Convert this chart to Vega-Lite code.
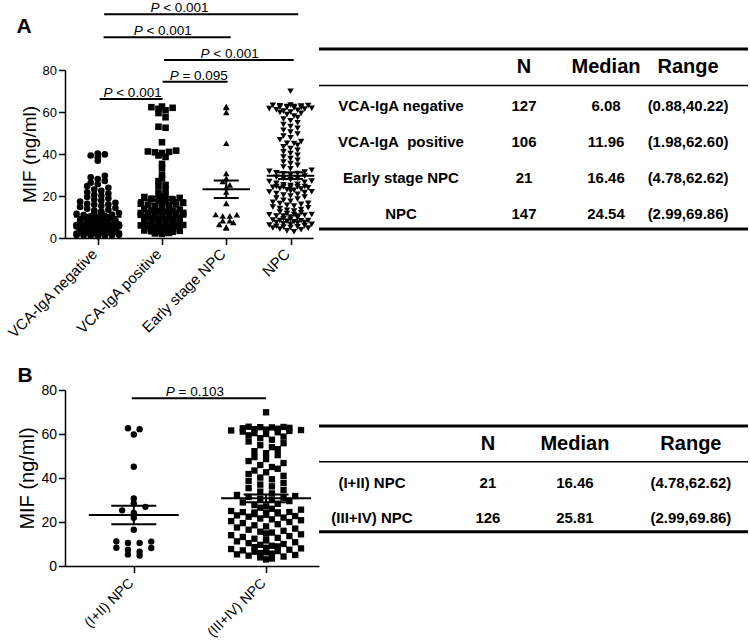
{
"$schema": "https://vega.github.io/schema/vega-lite/v6.json",
"background": "white",
"padding": {"left": 4, "top": 1, "right": 0, "bottom": 0},
"bounds": "flush",
"columns": 2,
"spacing": {"row": 152, "column": 0},
"config": {
  "view": {"stroke": null},
  "font": "Liberation Sans",
  "axis": {"domainColor": "black", "domainWidth": 1.5, "tickColor": "black", "tickWidth": 1.5, "tickSize": 6.5, "labelColor": "black", "titleColor": "black", "grid": false, "labelFont": "Liberation Sans", "titleFont": "Liberation Sans", "titleFontWeight": "normal", "labelOverlap": false, "labelFlush": false},
  "text": {"font": "Liberation Sans", "color": "black"}
},
"datasets": {
  "mif": [
{"g":"neg","v":0.88},{"g":"neg","v":1.05},{"g":"neg","v":1.21},{"g":"neg","v":1.36},{"g":"neg","v":1.5},{"g":"neg","v":1.64},{"g":"neg","v":1.77},{"g":"neg","v":1.9},{"g":"neg","v":2.02},{"g":"neg","v":2.14},
{"g":"neg","v":2.26},{"g":"neg","v":2.38},{"g":"neg","v":2.5},{"g":"neg","v":2.61},{"g":"neg","v":2.72},{"g":"neg","v":2.83},{"g":"neg","v":2.94},{"g":"neg","v":3.05},{"g":"neg","v":3.16},{"g":"neg","v":3.27},
{"g":"neg","v":3.38},{"g":"neg","v":3.49},{"g":"neg","v":3.6},{"g":"neg","v":3.71},{"g":"neg","v":3.82},{"g":"neg","v":3.93},{"g":"neg","v":4.04},{"g":"neg","v":4.15},{"g":"neg","v":4.26},{"g":"neg","v":4.37},
{"g":"neg","v":4.48},{"g":"neg","v":4.59},{"g":"neg","v":4.7},{"g":"neg","v":4.81},{"g":"neg","v":4.92},{"g":"neg","v":5.03},{"g":"neg","v":5.14},{"g":"neg","v":5.25},{"g":"neg","v":5.36},{"g":"neg","v":5.47},
{"g":"neg","v":5.56},{"g":"neg","v":5.64},{"g":"neg","v":5.72},{"g":"neg","v":5.8},{"g":"neg","v":5.88},{"g":"neg","v":5.94},{"g":"neg","v":6.0},{"g":"neg","v":6.04},{"g":"neg","v":6.06},{"g":"neg","v":6.07},
{"g":"neg","v":1.12},{"g":"neg","v":1.45},{"g":"neg","v":1.98},{"g":"neg","v":2.44},{"g":"neg","v":2.9},{"g":"neg","v":3.33},{"g":"neg","v":3.75},{"g":"neg","v":4.1},{"g":"neg","v":4.55},{"g":"neg","v":4.98},{"g":"neg","v":5.3},{"g":"neg","v":5.68},{"g":"neg","v":5.98},
{"g":"neg","v":6.08},
{"g":"neg","v":6.2},{"g":"neg","v":6.35},{"g":"neg","v":6.5},{"g":"neg","v":6.7},{"g":"neg","v":6.9},{"g":"neg","v":7.1},{"g":"neg","v":7.3},{"g":"neg","v":7.5},{"g":"neg","v":7.7},{"g":"neg","v":7.9},
{"g":"neg","v":8.1},{"g":"neg","v":8.35},{"g":"neg","v":8.6},{"g":"neg","v":8.85},{"g":"neg","v":9.1},{"g":"neg","v":9.4},{"g":"neg","v":9.7},{"g":"neg","v":10.0},{"g":"neg","v":10.3},{"g":"neg","v":10.6},
{"g":"neg","v":10.9},{"g":"neg","v":11.2},{"g":"neg","v":11.5},{"g":"neg","v":11.9},{"g":"neg","v":12.3},{"g":"neg","v":12.7},{"g":"neg","v":13.1},{"g":"neg","v":13.5},{"g":"neg","v":13.9},{"g":"neg","v":14.3},
{"g":"neg","v":14.8},{"g":"neg","v":15.3},{"g":"neg","v":15.8},{"g":"neg","v":16.3},{"g":"neg","v":16.8},{"g":"neg","v":17.3},{"g":"neg","v":17.8},{"g":"neg","v":18.3},{"g":"neg","v":18.9},{"g":"neg","v":19.5},
{"g":"neg","v":20.1},{"g":"neg","v":20.6},{"g":"neg","v":21.2},{"g":"neg","v":21.8},{"g":"neg","v":22.5},{"g":"neg","v":23.1},{"g":"neg","v":23.9},{"g":"neg","v":24.7},{"g":"neg","v":25.6},{"g":"neg","v":26.3},
{"g":"neg","v":27.2},{"g":"neg","v":28.1},{"g":"neg","v":28.9},{"g":"neg","v":29.6},{"g":"neg","v":16.0},{"g":"neg","v":12.0},{"g":"neg","v":9.0},{"g":"neg","v":7.2},{"g":"neg","v":36.8},{"g":"neg","v":38.5},{"g":"neg","v":39.3},{"g":"neg","v":39.8},{"g":"neg","v":40.22},
{"g":"pos","v":1.98},{"g":"pos","v":2.2},{"g":"pos","v":2.4},{"g":"pos","v":2.6},{"g":"pos","v":2.8},{"g":"pos","v":3.0},{"g":"pos","v":3.2},{"g":"pos","v":3.4},{"g":"pos","v":3.6},{"g":"pos","v":3.8},
{"g":"pos","v":4.0},{"g":"pos","v":4.2},{"g":"pos","v":4.4},{"g":"pos","v":4.6},{"g":"pos","v":4.8},{"g":"pos","v":5.0},{"g":"pos","v":5.2},{"g":"pos","v":5.4},{"g":"pos","v":5.6},{"g":"pos","v":5.8},
{"g":"pos","v":6.0},{"g":"pos","v":6.2},{"g":"pos","v":6.4},{"g":"pos","v":6.6},{"g":"pos","v":6.8},{"g":"pos","v":7.0},{"g":"pos","v":7.2},{"g":"pos","v":7.4},{"g":"pos","v":7.6},{"g":"pos","v":7.8},
{"g":"pos","v":8.0},{"g":"pos","v":8.2},{"g":"pos","v":8.4},{"g":"pos","v":8.6},{"g":"pos","v":8.8},{"g":"pos","v":9.0},{"g":"pos","v":9.2},{"g":"pos","v":9.4},{"g":"pos","v":9.6},{"g":"pos","v":9.8},
{"g":"pos","v":10.0},{"g":"pos","v":10.2},{"g":"pos","v":10.4},{"g":"pos","v":10.6},{"g":"pos","v":10.8},{"g":"pos","v":11.0},{"g":"pos","v":11.2},{"g":"pos","v":11.4},{"g":"pos","v":11.6},{"g":"pos","v":11.7},{"g":"pos","v":11.8},{"g":"pos","v":11.88},{"g":"pos","v":11.92},
{"g":"pos","v":12.0},
{"g":"pos","v":12.3},{"g":"pos","v":12.7},{"g":"pos","v":13.1},{"g":"pos","v":13.5},{"g":"pos","v":13.9},{"g":"pos","v":14.3},{"g":"pos","v":14.7},{"g":"pos","v":15.1},{"g":"pos","v":15.5},{"g":"pos","v":15.9},
{"g":"pos","v":16.3},{"g":"pos","v":16.7},{"g":"pos","v":17.1},{"g":"pos","v":17.5},{"g":"pos","v":17.9},{"g":"pos","v":18.3},{"g":"pos","v":18.7},{"g":"pos","v":19.1},{"g":"pos","v":19.5},{"g":"pos","v":19.9},
{"g":"pos","v":20.6},{"g":"pos","v":21.4},{"g":"pos","v":12.5},{"g":"pos","v":23.2},{"g":"pos","v":24.5},{"g":"pos","v":25.3},{"g":"pos","v":27.1},{"g":"pos","v":13.0},{"g":"pos","v":28.4},{"g":"pos","v":30.2},
{"g":"pos","v":14.0},{"g":"pos","v":33.4},{"g":"pos","v":15.2},{"g":"pos","v":35.3},{"g":"pos","v":16.0},{"g":"pos","v":38.6},{"g":"pos","v":39.3},{"g":"pos","v":40.8},{"g":"pos","v":41.0},{"g":"pos","v":41.2},
{"g":"pos","v":45.6},{"g":"pos","v":41.6},{"g":"pos","v":52.5},{"g":"pos","v":53.0},{"g":"pos","v":57.5},{"g":"pos","v":40.5},{"g":"pos","v":59.5},{"g":"pos","v":60.8},{"g":"pos","v":61.5},{"g":"pos","v":62.0},{"g":"pos","v":62.3},{"g":"pos","v":62.6},
{"g":"npc","s":"I+II","v":4.78},{"g":"npc","s":"I+II","v":5.2},{"g":"npc","s":"I+II","v":6.5},{"g":"npc","s":"I+II","v":7.4},{"g":"npc","s":"I+II","v":8.2},{"g":"npc","s":"I+II","v":8.3},{"g":"npc","s":"I+II","v":10.5},
{"g":"npc","s":"I+II","v":10.5},{"g":"npc","s":"I+II","v":11.1},{"g":"npc","s":"I+II","v":11.2},{"g":"npc","s":"I+II","v":16.46},{"g":"npc","s":"I+II","v":21.9},{"g":"npc","s":"I+II","v":24.1},{"g":"npc","s":"I+II","v":25.3},
{"g":"npc","s":"I+II","v":26.9},{"g":"npc","s":"I+II","v":28.4},{"g":"npc","s":"I+II","v":30.7},{"g":"npc","s":"I+II","v":45.1},{"g":"npc","s":"I+II","v":59.8},{"g":"npc","s":"I+II","v":62.2},{"g":"npc","s":"I+II","v":62.62},
{"g":"npc","s":"III+IV","v":2.99},{"g":"npc","s":"III+IV","v":3.4},{"g":"npc","s":"III+IV","v":3.9},{"g":"npc","s":"III+IV","v":4.3},{"g":"npc","s":"III+IV","v":4.7},{"g":"npc","s":"III+IV","v":5.0},{"g":"npc","s":"III+IV","v":5.3},{"g":"npc","s":"III+IV","v":5.6},{"g":"npc","s":"III+IV","v":5.9},{"g":"npc","s":"III+IV","v":6.2},
{"g":"npc","s":"III+IV","v":6.5},{"g":"npc","s":"III+IV","v":6.8},{"g":"npc","s":"III+IV","v":7.1},{"g":"npc","s":"III+IV","v":7.4},{"g":"npc","s":"III+IV","v":7.7},{"g":"npc","s":"III+IV","v":8.0},{"g":"npc","s":"III+IV","v":8.3},{"g":"npc","s":"III+IV","v":8.6},{"g":"npc","s":"III+IV","v":8.9},{"g":"npc","s":"III+IV","v":9.2},
{"g":"npc","s":"III+IV","v":9.6},{"g":"npc","s":"III+IV","v":10.0},{"g":"npc","s":"III+IV","v":10.4},{"g":"npc","s":"III+IV","v":10.8},{"g":"npc","s":"III+IV","v":11.2},{"g":"npc","s":"III+IV","v":11.6},{"g":"npc","s":"III+IV","v":12.0},{"g":"npc","s":"III+IV","v":12.4},{"g":"npc","s":"III+IV","v":12.8},{"g":"npc","s":"III+IV","v":13.2},
{"g":"npc","s":"III+IV","v":13.6},{"g":"npc","s":"III+IV","v":14.0},{"g":"npc","s":"III+IV","v":14.4},{"g":"npc","s":"III+IV","v":14.8},{"g":"npc","s":"III+IV","v":15.2},{"g":"npc","s":"III+IV","v":15.6},{"g":"npc","s":"III+IV","v":16.0},{"g":"npc","s":"III+IV","v":16.5},{"g":"npc","s":"III+IV","v":17.0},{"g":"npc","s":"III+IV","v":17.5},
{"g":"npc","s":"III+IV","v":18.0},{"g":"npc","s":"III+IV","v":18.5},{"g":"npc","s":"III+IV","v":19.0},{"g":"npc","s":"III+IV","v":19.5},{"g":"npc","s":"III+IV","v":20.0},{"g":"npc","s":"III+IV","v":20.4},{"g":"npc","s":"III+IV","v":20.8},{"g":"npc","s":"III+IV","v":21.2},{"g":"npc","s":"III+IV","v":21.6},{"g":"npc","s":"III+IV","v":22.0},
{"g":"npc","s":"III+IV","v":22.4},{"g":"npc","s":"III+IV","v":22.7},{"g":"npc","s":"III+IV","v":23.0},{"g":"npc","s":"III+IV","v":23.3},{"g":"npc","s":"III+IV","v":23.6},{"g":"npc","s":"III+IV","v":23.9},{"g":"npc","s":"III+IV","v":24.1},{"g":"npc","s":"III+IV","v":24.3},{"g":"npc","s":"III+IV","v":24.4},{"g":"npc","s":"III+IV","v":24.5},
{"g":"npc","s":"III+IV","v":24.54},{"g":"npc","s":"III+IV","v":25.0},{"g":"npc","s":"III+IV","v":25.6},{"g":"npc","s":"III+IV","v":26.02},
{"g":"npc","s":"III+IV","v":26.5},{"g":"npc","s":"III+IV","v":27.1},{"g":"npc","s":"III+IV","v":27.7},{"g":"npc","s":"III+IV","v":28.3},{"g":"npc","s":"III+IV","v":28.9},{"g":"npc","s":"III+IV","v":29.5},{"g":"npc","s":"III+IV","v":30.1},{"g":"npc","s":"III+IV","v":30.6},{"g":"npc","s":"III+IV","v":31.0},{"g":"npc","s":"III+IV","v":31.4},
{"g":"npc","s":"III+IV","v":31.8},{"g":"npc","s":"III+IV","v":32.3},{"g":"npc","s":"III+IV","v":33.0},{"g":"npc","s":"III+IV","v":33.8},{"g":"npc","s":"III+IV","v":34.6},{"g":"npc","s":"III+IV","v":35.4},{"g":"npc","s":"III+IV","v":36.2},{"g":"npc","s":"III+IV","v":37.0},{"g":"npc","s":"III+IV","v":37.8},{"g":"npc","s":"III+IV","v":38.6},
{"g":"npc","s":"III+IV","v":39.4},{"g":"npc","s":"III+IV","v":40.2},{"g":"npc","s":"III+IV","v":41.0},{"g":"npc","s":"III+IV","v":41.8},{"g":"npc","s":"III+IV","v":42.6},{"g":"npc","s":"III+IV","v":43.4},{"g":"npc","s":"III+IV","v":44.2},{"g":"npc","s":"III+IV","v":45.0},{"g":"npc","s":"III+IV","v":45.9},{"g":"npc","s":"III+IV","v":46.8},
{"g":"npc","s":"III+IV","v":47.7},{"g":"npc","s":"III+IV","v":48.6},{"g":"npc","s":"III+IV","v":49.5},{"g":"npc","s":"III+IV","v":50.4},{"g":"npc","s":"III+IV","v":51.3},{"g":"npc","s":"III+IV","v":52.2},{"g":"npc","s":"III+IV","v":53.1},{"g":"npc","s":"III+IV","v":54.0},{"g":"npc","s":"III+IV","v":54.9},{"g":"npc","s":"III+IV","v":55.8},
{"g":"npc","s":"III+IV","v":56.6},{"g":"npc","s":"III+IV","v":57.4},{"g":"npc","s":"III+IV","v":58.1},{"g":"npc","s":"III+IV","v":58.8},{"g":"npc","s":"III+IV","v":59.4},{"g":"npc","s":"III+IV","v":60.0},{"g":"npc","s":"III+IV","v":60.4},{"g":"npc","s":"III+IV","v":60.8},{"g":"npc","s":"III+IV","v":61.1},{"g":"npc","s":"III+IV","v":61.4},
{"g":"npc","s":"III+IV","v":61.6},{"g":"npc","s":"III+IV","v":61.8},{"g":"npc","s":"III+IV","v":62.0},{"g":"npc","s":"III+IV","v":62.2},{"g":"npc","s":"III+IV","v":62.4},{"g":"npc","s":"III+IV","v":62.6},{"g":"npc","s":"III+IV","v":62.8},{"g":"npc","s":"III+IV","v":63.0},{"g":"npc","s":"III+IV","v":63.1},{"g":"npc","s":"III+IV","v":63.2},{"g":"npc","s":"III+IV","v":63.3},{"g":"npc","s":"III+IV","v":69.86}
  ],
  "brA": [
    {"x1": 0.1, "x2": 3.12, "y": 106.5, "lx": 1.24, "t": "< 0.001"},
    {"x1": 0.09, "x2": 2.07, "y": 95.6, "lx": 0.98, "t": "< 0.001"},
    {"x1": 1.03, "x2": 3.05, "y": 84.8, "lx": 2.02, "t": "< 0.001"},
    {"x1": 1.01, "x2": 2.02, "y": 74.4, "lx": 1.54, "t": "= 0.095"},
    {"x1": 0.03, "x2": 1.01, "y": 66.2, "lx": 0.51, "t": "< 0.001"}
  ],
  "brB": [
    {"x1": -0.015, "x2": 1.0, "y": 76.2, "lx": 0.446, "t": "= 0.103"}
  ],
  "tabA": [
    {"r": 1, "Group": "VCA-IgA negative", "N": "127", "Median": "6.08", "Range": "(0.88,40.22)"},
    {"r": 2, "Group": "VCA-IgA\u00a0 positive", "N": "106", "Median": "11.96", "Range": "(1.98,62.60)"},
    {"r": 3, "Group": "Early stage NPC", "N": "21", "Median": "16.46", "Range": "(4.78,62.62)"},
    {"r": 4, "Group": "NPC", "N": "147", "Median": "24.54", "Range": "(2.99,69.86)"}
  ],
  "tabB": [
    {"r": 1, "Group": "(I+II) NPC", "N": "21", "Median": "16.46", "Range": "(4.78,62.62)"},
    {"r": 2, "Group": "(III+IV) NPC", "N": "126", "Median": "25.81", "Range": "(2.99,69.86)"}
  ]
},
"concat": [
  {
    "width": 248, "height": 168,
    "layer": [
      {
        "data": {"name": "mif"},
        "transform": [
          {"calculate": "datum.g=='npc' ? (datum.s=='I+II' ? ['NPC','Early stage NPC'] : ['NPC']) : [datum.g=='neg' ? 'VCA-IgA negative' : 'VCA-IgA positive']", "as": "grp"},
          {"flatten": ["grp"]},
          {"calculate": "indexof(['VCA-IgA negative','VCA-IgA positive','Early stage NPC','NPC'], datum.grp)", "as": "gi"},
          {"calculate": "floor(datum.v/2.5)", "as": "bin"},
          {"window": [{"op": "row_number", "as": "rk"}], "groupby": ["grp", "bin"], "sort": [{"field": "v"}]},
          {"joinaggregate": [{"op": "count", "as": "n"}], "groupby": ["grp", "bin"]},
          {"calculate": "datum.bin%2==0 ? 7 : 6", "as": "nc"},
          {"calculate": "(datum.rk-1)%datum.nc", "as": "c"},
          {"calculate": "floor((datum.rk-1)/datum.nc) < floor((datum.n-1)/datum.nc) ? datum.nc : ((datum.n-1)%datum.nc)+1", "as": "mm"},
          {"calculate": "datum.gi + ((datum.c%2==0 ? datum.c/2 : -(datum.c+1)/2) + (datum.mm%2==0 ? 0.5 : 0)) * 0.11", "as": "xp"}
        ],
        "mark": {"type": "point", "filled": true, "opacity": 1, "color": "black", "strokeWidth": 0},
        "encoding": {
          "x": {"field": "xp", "type": "quantitative", "scale": {"domain": [-0.51, 3.35], "nice": false, "zero": false},
                "axis": {"values": [0, 1, 2, 3], "labelExpr": "['VCA-IgA negative','VCA-IgA positive','Early stage NPC','NPC'][datum.value]", "labelAngle": -45, "labelAlign": "right", "labelBaseline": "alphabetic", "labelFontSize": 15, "labelPadding": 10, "title": null}},
          "y": {"field": "v", "type": "quantitative", "scale": {"domain": [0, 80], "nice": false},
                "axis": {"values": [0, 20, 40, 60, 80], "title": "MIF (ng/ml)", "titleFontSize": 19, "labelFontSize": 13, "labelPadding": 2, "titlePadding": 3}},
          "shape": {"field": "grp", "type": "nominal", "scale": {"domain": ["VCA-IgA negative", "VCA-IgA positive", "Early stage NPC", "NPC"], "range": ["circle", "square", "triangle-up", "triangle-down"]}, "legend": null},
          "size": {"field": "grp", "type": "nominal", "scale": {"domain": ["VCA-IgA negative", "VCA-IgA positive", "Early stage NPC", "NPC"], "range": [44, 40, 65, 60]}, "legend": null}
        }
      },
      {
        "data": {"name": "mif"},
        "transform": [
          {"calculate": "datum.g=='npc' ? (datum.s=='I+II' ? ['NPC','Early stage NPC'] : ['NPC']) : [datum.g=='neg' ? 'VCA-IgA negative' : 'VCA-IgA positive']", "as": "grp"},
          {"flatten": ["grp"]},
          {"calculate": "indexof(['VCA-IgA negative','VCA-IgA positive','Early stage NPC','NPC'], datum.grp)", "as": "gi"},
          {"aggregate": [{"op": "mean", "field": "v", "as": "m"}, {"op": "stderr", "field": "v", "as": "se"}], "groupby": ["grp", "gi"]},
          {"calculate": "datum.m-datum.se", "as": "lo"},
          {"calculate": "datum.m+datum.se", "as": "hi"},
          {"calculate": "datum.gi-0.37", "as": "xa"},
          {"calculate": "datum.gi+0.37", "as": "xb"},
          {"calculate": "datum.gi-0.195", "as": "ca"},
          {"calculate": "datum.gi+0.195", "as": "cb"}
        ],
        "layer": [
          {"mark": {"type": "rule", "strokeWidth": 2, "color": "black"},
           "encoding": {"x": {"field": "xa", "type": "quantitative", "scale": {"domain": [-0.51, 3.35], "nice": false, "zero": false}}, "x2": {"field": "xb"}, "y": {"field": "m", "type": "quantitative", "scale": {"domain": [0, 80], "nice": false}}}},
          {"mark": {"type": "rule", "strokeWidth": 2, "color": "black"},
           "encoding": {"x": {"field": "ca", "type": "quantitative", "scale": {"domain": [-0.51, 3.35], "nice": false, "zero": false}}, "x2": {"field": "cb"}, "y": {"field": "lo", "type": "quantitative", "scale": {"domain": [0, 80], "nice": false}}}},
          {"mark": {"type": "rule", "strokeWidth": 2, "color": "black"},
           "encoding": {"x": {"field": "ca", "type": "quantitative", "scale": {"domain": [-0.51, 3.35], "nice": false, "zero": false}}, "x2": {"field": "cb"}, "y": {"field": "hi", "type": "quantitative", "scale": {"domain": [0, 80], "nice": false}}}},
          {"mark": {"type": "rule", "strokeWidth": 2, "color": "black"},
           "encoding": {"x": {"field": "gi", "type": "quantitative", "scale": {"domain": [-0.51, 3.35], "nice": false, "zero": false}}, "y": {"field": "lo", "type": "quantitative", "scale": {"domain": [0, 80], "nice": false}}, "y2": {"field": "hi"}}}
        ]
      },
      {
        "data": {"name": "brA"},
        "layer": [
          {"mark": {"type": "rule", "strokeWidth": 2, "color": "black"},
           "encoding": {"x": {"field": "x1", "type": "quantitative", "scale": {"domain": [-0.51, 3.35], "nice": false, "zero": false}}, "x2": {"field": "x2"}, "y": {"field": "y", "type": "quantitative", "scale": {"domain": [0, 80], "nice": false}}}},
          {"mark": {"type": "text", "fontStyle": "italic", "fontSize": 13.5, "align": "right", "baseline": "alphabetic", "dx": -18, "dy": -2},
           "encoding": {"x": {"field": "lx", "type": "quantitative", "scale": {"domain": [-0.51, 3.35], "nice": false, "zero": false}}, "y": {"field": "y", "type": "quantitative", "scale": {"domain": [0, 80], "nice": false}}, "text": {"value": "P"}}},
          {"mark": {"type": "text", "fontSize": 13.5, "align": "left", "baseline": "alphabetic", "dx": -14.3, "dy": -2},
           "encoding": {"x": {"field": "lx", "type": "quantitative", "scale": {"domain": [-0.51, 3.35], "nice": false, "zero": false}}, "y": {"field": "y", "type": "quantitative", "scale": {"domain": [0, 80], "nice": false}}, "text": {"field": "t"}}}
        ]
      },
      {
        "data": {"values": [{"t": "A"}]},
        "mark": {"type": "text", "fontSize": 21, "fontWeight": "bold", "align": "left", "baseline": "alphabetic"},
        "encoding": {"x": {"datum": -1.265, "type": "quantitative", "scale": {"domain": [-0.51, 3.35], "nice": false, "zero": false}}, "y": {"datum": 97.5, "type": "quantitative", "scale": {"domain": [0, 80], "nice": false}}, "text": {"field": "t"}}
      }
    ]
  },
  {
    "width": 429, "height": 168,
    "data": {"name": "tabA"},
    "layer": [
      {"mark": {"type": "text", "fontSize": 15, "fontWeight": "bold"},
       "encoding": {"x": {"datum": "Group", "type": "nominal", "scale": {"type": "point", "domain": ["p0", "Group", "s1", "s2", "N", "s3", "Median", "s4", "Range", "p9"], "padding": 0.73, "align": 0.684}, "axis": null},
                    "y": {"field": "r", "type": "quantitative", "scale": {"domain": [0, 4.667], "reverse": true, "nice": false, "zero": false}, "axis": null},
                    "text": {"field": "Group"}}},
      {"transform": [{"fold": ["N", "Median", "Range"]}],
       "mark": {"type": "text", "fontSize": 15, "fontWeight": "bold"},
       "encoding": {"x": {"field": "key", "type": "nominal", "scale": {"type": "point", "domain": ["p0", "Group", "s1", "s2", "N", "s3", "Median", "s4", "Range", "p9"], "padding": 0.73, "align": 0.684}, "axis": null},
                    "y": {"field": "r", "type": "quantitative", "scale": {"domain": [0, 4.667], "reverse": true, "nice": false, "zero": false}, "axis": null},
                    "text": {"field": "value", "type": "nominal"}}},
      {"transform": [{"filter": "datum.r==1"}, {"fold": ["N", "Median", "Range"]}],
       "mark": {"type": "text", "fontSize": 20, "fontWeight": "bold", "dy": -3},
       "encoding": {"x": {"field": "key", "type": "nominal", "scale": {"type": "point", "domain": ["p0", "Group", "s1", "s2", "N", "s3", "Median", "s4", "Range", "p9"], "padding": 0.73, "align": 0.684}, "axis": null},
                    "y": {"datum": 0, "type": "quantitative", "scale": {"domain": [0, 4.667], "reverse": true, "nice": false, "zero": false}, "axis": null},
                    "text": {"field": "key", "type": "nominal"}}},
      {"data": {"values": [{}]}, "mark": {"type": "rule", "strokeWidth": 3, "color": "black"},
       "encoding": {"y": {"datum": -0.583, "type": "quantitative", "scale": {"domain": [0, 4.667], "reverse": true, "nice": false, "zero": false}, "axis": null}}},
      {"data": {"values": [{}]}, "mark": {"type": "rule", "strokeWidth": 1.5, "color": "black"},
       "encoding": {"y": {"datum": 0.433, "type": "quantitative", "scale": {"domain": [0, 4.667], "reverse": true, "nice": false, "zero": false}, "axis": null}}},
      {"data": {"values": [{}]}, "mark": {"type": "rule", "strokeWidth": 3, "color": "black"},
       "encoding": {"y": {"datum": 4.42, "type": "quantitative", "scale": {"domain": [0, 4.667], "reverse": true, "nice": false, "zero": false}, "axis": null}}}
    ]
  },
  {
    "width": 254, "height": 176,
    "layer": [
      {
        "data": {"name": "mif"},
        "transform": [
          {"filter": "datum.g=='npc'"},
          {"calculate": "datum.s=='I+II' ? '(I+II) NPC' : '(III+IV) NPC'", "as": "grp"},
          {"calculate": "datum.s=='I+II' ? 0 : 1", "as": "gi"},
          {"calculate": "floor(datum.v/3)", "as": "bin"},
          {"window": [{"op": "row_number", "as": "rk"}], "groupby": ["grp", "bin"], "sort": [{"field": "v"}]},
          {"joinaggregate": [{"op": "count", "as": "n"}], "groupby": ["grp", "bin"]},
          {"calculate": "datum.bin%2==0 ? 7 : 6", "as": "nc"},
          {"calculate": "(datum.rk-1)%datum.nc", "as": "c"},
          {"calculate": "floor((datum.rk-1)/datum.nc) < floor((datum.n-1)/datum.nc) ? datum.nc : ((datum.n-1)%datum.nc)+1", "as": "mm"},
          {"calculate": "datum.gi + ((datum.c%2==0 ? datum.c/2 : -(datum.c+1)/2) + (datum.mm%2==0 ? 0.5 : 0)) * 0.088", "as": "xp"}
        ],
        "mark": {"type": "point", "filled": true, "opacity": 1, "color": "black", "strokeWidth": 0},
        "encoding": {
          "x": {"field": "xp", "type": "quantitative", "scale": {"domain": [-0.52, 1.4], "nice": false, "zero": false},
                "axis": {"values": [0, 1], "labelExpr": "['(I+II) NPC','(III+IV) NPC'][datum.value]", "labelAngle": -45, "labelAlign": "right", "labelBaseline": "alphabetic", "labelFontSize": 14, "labelPadding": 11, "title": null}},
          "y": {"field": "v", "type": "quantitative", "scale": {"domain": [0, 80], "nice": false},
                "axis": {"values": [0, 20, 40, 60, 80], "title": "MIF (ng/ml)", "titleFontSize": 20, "labelFontSize": 14, "labelPadding": 2, "titlePadding": 3}},
          "shape": {"field": "grp", "type": "nominal", "scale": {"domain": ["(I+II) NPC", "(III+IV) NPC"], "range": ["circle", "square"]}, "legend": null},
          "size": {"field": "grp", "type": "nominal", "scale": {"domain": ["(I+II) NPC", "(III+IV) NPC"], "range": [53, 53]}, "legend": null}
        }
      },
      {
        "data": {"name": "mif"},
        "transform": [
          {"filter": "datum.g=='npc'"},
          {"calculate": "datum.s=='I+II' ? '(I+II) NPC' : '(III+IV) NPC'", "as": "grp"},
          {"calculate": "datum.s=='I+II' ? 0 : 1", "as": "gi"},
          {"aggregate": [{"op": "mean", "field": "v", "as": "m"}, {"op": "stderr", "field": "v", "as": "se"}], "groupby": ["grp", "gi"]},
          {"calculate": "datum.m-datum.se", "as": "lo"},
          {"calculate": "datum.m+datum.se", "as": "hi"},
          {"calculate": "datum.gi-0.34", "as": "xa"},
          {"calculate": "datum.gi+0.34", "as": "xb"},
          {"calculate": "datum.gi-0.17", "as": "ca"},
          {"calculate": "datum.gi+0.17", "as": "cb"}
        ],
        "layer": [
          {"mark": {"type": "rule", "strokeWidth": 2, "color": "black"},
           "encoding": {"x": {"field": "xa", "type": "quantitative", "scale": {"domain": [-0.52, 1.4], "nice": false, "zero": false}}, "x2": {"field": "xb"}, "y": {"field": "m", "type": "quantitative", "scale": {"domain": [0, 80], "nice": false}}}},
          {"mark": {"type": "rule", "strokeWidth": 2, "color": "black"},
           "encoding": {"x": {"field": "ca", "type": "quantitative", "scale": {"domain": [-0.52, 1.4], "nice": false, "zero": false}}, "x2": {"field": "cb"}, "y": {"field": "lo", "type": "quantitative", "scale": {"domain": [0, 80], "nice": false}}}},
          {"mark": {"type": "rule", "strokeWidth": 2, "color": "black"},
           "encoding": {"x": {"field": "ca", "type": "quantitative", "scale": {"domain": [-0.52, 1.4], "nice": false, "zero": false}}, "x2": {"field": "cb"}, "y": {"field": "hi", "type": "quantitative", "scale": {"domain": [0, 80], "nice": false}}}},
          {"mark": {"type": "rule", "strokeWidth": 2, "color": "black"},
           "encoding": {"x": {"field": "gi", "type": "quantitative", "scale": {"domain": [-0.52, 1.4], "nice": false, "zero": false}}, "y": {"field": "lo", "type": "quantitative", "scale": {"domain": [0, 80], "nice": false}}, "y2": {"field": "hi"}}}
        ]
      },
      {
        "data": {"name": "brB"},
        "layer": [
          {"mark": {"type": "rule", "strokeWidth": 2, "color": "black"},
           "encoding": {"x": {"field": "x1", "type": "quantitative", "scale": {"domain": [-0.52, 1.4], "nice": false, "zero": false}}, "x2": {"field": "x2"}, "y": {"field": "y", "type": "quantitative", "scale": {"domain": [0, 80], "nice": false}}}},
          {"mark": {"type": "text", "fontStyle": "italic", "fontSize": 13.5, "align": "right", "baseline": "alphabetic", "dx": -18, "dy": -2},
           "encoding": {"x": {"field": "lx", "type": "quantitative", "scale": {"domain": [-0.52, 1.4], "nice": false, "zero": false}}, "y": {"field": "y", "type": "quantitative", "scale": {"domain": [0, 80], "nice": false}}, "text": {"value": "P"}}},
          {"mark": {"type": "text", "fontSize": 13.5, "align": "left", "baseline": "alphabetic", "dx": -14.3, "dy": -2},
           "encoding": {"x": {"field": "lx", "type": "quantitative", "scale": {"domain": [-0.52, 1.4], "nice": false, "zero": false}}, "y": {"field": "y", "type": "quantitative", "scale": {"domain": [0, 80], "nice": false}}, "text": {"field": "t"}}}
        ]
      },
      {
        "data": {"values": [{"t": "B"}]},
        "mark": {"type": "text", "fontSize": 21, "fontWeight": "bold", "align": "left", "baseline": "alphabetic"},
        "encoding": {"x": {"datum": -0.879, "type": "quantitative", "scale": {"domain": [-0.52, 1.4], "nice": false, "zero": false}}, "y": {"datum": 83.6, "type": "quantitative", "scale": {"domain": [0, 80], "nice": false}}, "text": {"field": "t"}}
      }
    ]
  },
  {
    "width": 429, "height": 176,
    "data": {"name": "tabB"},
    "layer": [
      {"mark": {"type": "text", "fontSize": 15, "fontWeight": "bold"},
       "encoding": {"x": {"datum": "Group", "type": "nominal", "scale": {"type": "point", "domain": ["p0", "Group", "s1", "s2", "s3", "N", "s4", "s5", "Median", "s6", "s7", "s8", "Range", "p13"], "padding": 0.897, "align": 0.46}, "axis": null},
                    "y": {"field": "r", "type": "quantitative", "scale": {"domain": [-1.657, 3.371], "reverse": true, "nice": false, "zero": false}, "axis": null},
                    "text": {"field": "Group"}}},
      {"transform": [{"fold": ["N", "Median", "Range"]}],
       "mark": {"type": "text", "fontSize": 15, "fontWeight": "bold"},
       "encoding": {"x": {"field": "key", "type": "nominal", "scale": {"type": "point", "domain": ["p0", "Group", "s1", "s2", "s3", "N", "s4", "s5", "Median", "s6", "s7", "s8", "Range", "p13"], "padding": 0.897, "align": 0.46}, "axis": null},
                    "y": {"field": "r", "type": "quantitative", "scale": {"domain": [-1.657, 3.371], "reverse": true, "nice": false, "zero": false}, "axis": null},
                    "text": {"field": "value", "type": "nominal"}}},
      {"transform": [{"filter": "datum.r==1"}, {"fold": ["N", "Median", "Range"]}],
       "mark": {"type": "text", "fontSize": 20, "fontWeight": "bold", "dy": -4},
       "encoding": {"x": {"field": "key", "type": "nominal", "scale": {"type": "point", "domain": ["p0", "Group", "s1", "s2", "s3", "N", "s4", "s5", "Median", "s6", "s7", "s8", "Range", "p13"], "padding": 0.897, "align": 0.46}, "axis": null},
                    "y": {"datum": 0, "type": "quantitative", "scale": {"domain": [-1.657, 3.371], "reverse": true, "nice": false, "zero": false}, "axis": null},
                    "text": {"field": "key", "type": "nominal"}}},
      {"data": {"values": [{}]}, "mark": {"type": "rule", "strokeWidth": 3, "color": "black"},
       "encoding": {"y": {"datum": -0.63, "type": "quantitative", "scale": {"domain": [-1.657, 3.371], "reverse": true, "nice": false, "zero": false}, "axis": null}}},
      {"data": {"values": [{}]}, "mark": {"type": "rule", "strokeWidth": 1.5, "color": "black"},
       "encoding": {"y": {"datum": 0.39, "type": "quantitative", "scale": {"domain": [-1.657, 3.371], "reverse": true, "nice": false, "zero": false}, "axis": null}}},
      {"data": {"values": [{}]}, "mark": {"type": "rule", "strokeWidth": 3, "color": "black"},
       "encoding": {"y": {"datum": 2.39, "type": "quantitative", "scale": {"domain": [-1.657, 3.371], "reverse": true, "nice": false, "zero": false}, "axis": null}}}
    ]
  }
]
}
